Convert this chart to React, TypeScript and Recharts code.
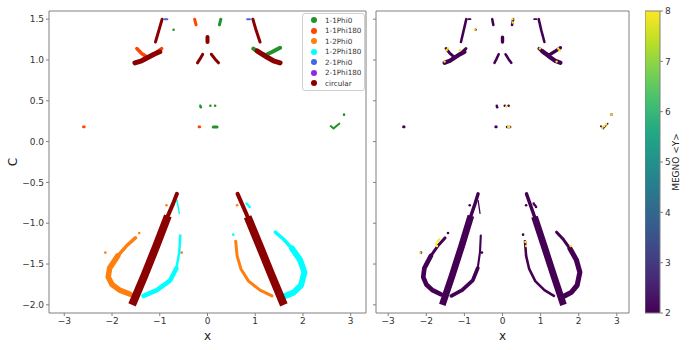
import React from 'react';
import { ScatterChart, Scatter, XAxis, YAxis, ReferenceLine, Legend, BarChart, Bar } from 'recharts';

// ---------- axes ----------
const X_TICKS = [-3, -2, -1, 0, 1, 2, 3];
const Y_TICKS = [-2, -1.5, -1, -0.5, 0, 0.5, 1, 1.5];
const CBAR_TICKS = [2, 3, 4, 5, 6, 7, 8];
const X_DOMAIN: [number, number] = [-3.32, 3.32];
const Y_DOMAIN: [number, number] = [-2.1, 1.6];

// ---------- categories ----------
const CATEGORIES = ['1-1Phi0', '1-1Phi180', '1-2Phi0', '1-2Phi180', '2-1Phi0', '2-1Phi180', 'circular'];
const CATEGORY_COLORS = ['#22922b', '#ff4500', '#ff7f0e', '#00ffff', '#4169e1', '#8a2be2', '#8b0000'];

// ---------- bands (x, C) ----------
const circUpperLeftArm = [[-0.95, 1.5], [-1.02, 1.36], [-1.09, 1.22]];
const circUpperRightArm = [[0.95, 1.5], [1.02, 1.36], [1.1, 1.22]];
const circLeftWing = [[-1.52, 0.965], [-1.38, 0.99], [-1.25, 1.03], [-1.12, 1.07], [-1.0, 1.1]];
const circRightWing = [[1.52, 0.965], [1.38, 0.99], [1.26, 1.03], [1.15, 1.07], [1.04, 1.11]];
const circCenterPeak = [[0, 1.28], [0, 1.22]];
const circCenterLeft = [[-0.1, 1.07], [-0.16, 1.01], [-0.21, 0.965]];
const circCenterRight = [[0.08, 1.07], [0.16, 1.01], [0.23, 0.965]];
const circLowerLeftTop = [[-0.64, -0.64], [-0.72, -0.76], [-0.83, -0.91]];
const circLowerLeft = [[-0.83, -0.91], [-1.08, -1.29], [-1.32, -1.64], [-1.58, -2.0]];
const circLowerRightTop = [[0.63, -0.64], [0.72, -0.76], [0.84, -0.92]];
const circLowerRight = [[0.84, -0.92], [1.1, -1.29], [1.35, -1.65], [1.6, -2.0]];

const phi180LeftV = [[-1.48, 1.14], [-1.38, 1.08], [-1.25, 1.03], [-1.12, 1.07], [-0.96, 1.14]];
const phi180CenterTop = [[-0.27, 1.5], [-0.24, 1.43]];
const phi0RightV = [[0.96, 1.14], [1.08, 1.09], [1.22, 1.06], [1.36, 1.1], [1.52, 1.15]];
const phi0CenterTop = [[0.28, 1.5], [0.25, 1.43]];
const phi0MidCluster = [[0.12, 0.18], [0.2, 0.18]];
const phi0RightCluster = [[2.58, 0.19], [2.64, 0.16], [2.72, 0.2], [2.76, 0.22]];
const blueLeftTop = [[-0.9, 1.5], [-0.84, 1.5]];
const blueRightTop = [[0.83, 1.5], [0.89, 1.5]];

const orangeLeftTop = [[-1.51, -1.18], [-1.7, -1.28], [-1.88, -1.4]];
const orangeLeft = [[-1.88, -1.4], [-2.05, -1.55], [-2.08, -1.66], [-2.0, -1.75], [-1.84, -1.82], [-1.62, -1.87]];
const orangeRight = [[0.59, -1.22], [0.62, -1.4], [0.7, -1.56], [0.86, -1.71], [1.1, -1.82], [1.35, -1.89]];
const cyanLeftTop = [[-0.57, -1.15], [-0.59, -1.35], [-0.65, -1.55]];
const cyanLeft = [[-0.65, -1.55], [-0.78, -1.7], [-1.06, -1.82], [-1.34, -1.89]];
const cyanLeftTrickle = [[-0.64, -0.72], [-0.59, -0.88]];
const cyanRightTop = [[1.42, -1.11], [1.6, -1.2], [1.77, -1.31]];
const cyanRight = [[1.77, -1.31], [1.94, -1.45], [2.03, -1.6], [1.96, -1.76], [1.8, -1.85], [1.63, -1.89]];

// ---------- scattered single points ----------
const greenDots = [[-0.71, 1.37], [-0.15, 0.44], [-0.14, 0.42], [0.06, 0.44], [0.16, 0.44], [2.86, 0.33]];
const orangeRedDots = [[-2.6, 0.18], [-2.58, 0.18], [-0.18, 0.18], [-0.16, 0.18]];
const orangeDots = [[-1.43, -1.12], [-2.14, -1.36], [-0.86, -0.78], [-0.54, -1.36], [0.62, -0.78]];
const cyanDots = [[0.54, -1.14], [0.82, -0.76], [0.85, -0.78], [0.88, -0.8]];

// ---------- high MEGNO points (right panel) ----------
const HIGH_MEGNO = [
  [-0.73, 1.37], [0.26, 1.5], [0.27, 1.46], [1.46, 1.14], [1.5, 1.12], [0.98, 1.14], [1.42, 0.98],
  [-1.43, 1.14], [-1.47, 1.12], [-1.52, 0.98], [-1.12, 1.12], [0.1, 0.43], [0.15, 0.18], [0.18, 0.18],
  [2.62, 0.17], [2.67, 0.19], [2.72, 0.21], [2.86, 0.33], [-2.16, -1.36], [-1.74, -1.25], [-1.7, -1.22],
  [-1.66, -1.2], [-1.72, -1.28], [0.6, -1.23], [0.62, -1.28], [1.79, -1.28],
];
const HIGH_MEGNO_VALUE = 8;
const BAND_MEGNO_VALUE = 2;

type Band = { cat: number; pts: number[][]; w: number; cap?: 'butt' | 'round' };
const BANDS: Band[] = [
  { cat: 0, pts: phi0RightV, w: 4 },
  { cat: 0, pts: phi0CenterTop, w: 3 },
  { cat: 0, pts: phi0MidCluster, w: 3 },
  { cat: 0, pts: phi0RightCluster, w: 2 },
  { cat: 1, pts: phi180LeftV, w: 3.5 },
  { cat: 1, pts: phi180CenterTop, w: 3 },
  { cat: 2, pts: orangeLeftTop, w: 3.5 },
  { cat: 2, pts: orangeLeft, w: 5.5 },
  { cat: 2, pts: orangeRight, w: 3 },
  { cat: 3, pts: cyanLeftTop, w: 2.5 },
  { cat: 3, pts: cyanLeft, w: 4.5 },
  { cat: 3, pts: cyanLeftTrickle, w: 1.5 },
  { cat: 3, pts: cyanRightTop, w: 3.5 },
  { cat: 3, pts: cyanRight, w: 6 },
  { cat: 4, pts: blueLeftTop, w: 2 },
  { cat: 4, pts: blueRightTop, w: 2 },
  { cat: 6, pts: circUpperLeftArm, w: 3 },
  { cat: 6, pts: circUpperRightArm, w: 3 },
  { cat: 6, pts: circLeftWing, w: 5 },
  { cat: 6, pts: circRightWing, w: 5 },
  { cat: 6, pts: circCenterPeak, w: 4 },
  { cat: 6, pts: circCenterLeft, w: 3 },
  { cat: 6, pts: circCenterRight, w: 3 },
  { cat: 6, pts: circLowerLeftTop, w: 4 },
  { cat: 6, pts: circLowerLeft, w: 8, cap: 'butt' },
  { cat: 6, pts: circLowerRightTop, w: 4 },
  { cat: 6, pts: circLowerRight, w: 8, cap: 'butt' },
];
const DOTS: { cat: number; pts: number[][] }[] = [
  { cat: 0, pts: greenDots },
  { cat: 1, pts: orangeRedDots },
  { cat: 2, pts: orangeDots },
  { cat: 3, pts: cyanDots },
];

const VIRIDIS = ['#440154', '#482475', '#414487', '#355f8d', '#2a788e', '#21918c', '#22a884', '#44bf70', '#7ad151', '#bddf26', '#fde725'];
const viridis = (v: number) => {
  const t = Math.max(0, Math.min(1, (v - 2) / 6));
  return VIRIDIS[Math.round(t * (VIRIDIS.length - 1))];
};

const toPts = (a: number[][]) => a.map(([x, y]) => ({ x, y }));
const FONT = 'DejaVu Sans, sans-serif';
const SPINE = '#808080';
const TICK = { fontSize: 9, fill: '#333', fontFamily: FONT };
const fmt = (v: number, d: number) => (v < 0 ? '\u2212' + Math.abs(v).toFixed(d) : v.toFixed(d));

const NoShape = () => <g />;
const makeDot = (r: number) => (p: any) => <circle cx={p.cx} cy={p.cy} r={r} fill={p.fill} />;

function LegendBox() {
  return (
    <div style={{ border: '1px solid #d0d0d0', borderRadius: 3, background: 'rgba(255,255,255,0.85)', padding: '1px 3px 1px 6px', fontFamily: FONT, fontSize: 7.2, color: '#333' }}>
      {CATEGORIES.map((c, i) => (
        <div key={c} style={{ display: 'flex', alignItems: 'center', height: 10.5, whiteSpace: 'nowrap' }}>
          <span style={{ display: 'inline-block', width: 6, height: 6, borderRadius: 3, background: CATEGORY_COLORS[i], marginLeft: 2, marginRight: 8 }} />
          {c}
        </div>
      ))}
    </div>
  );
}

function Panel({ megno, width, yLabels, left }: { megno: boolean; width: number; yLabels: boolean; left: number }) {
  const scale = megno ? 0.85 : 1;
  const yAxisWidth = yLabels ? 49 : 6;
  return (
    <div style={{ position: 'absolute', left, top: 0 }}>
      <ScatterChart width={width} height={350} margin={{ top: 11, right: 4, bottom: 7, left: 0 }}>
        <XAxis
          type="number"
          dataKey="x"
          domain={X_DOMAIN}
          ticks={X_TICKS}
          allowDataOverflow
          height={30}
          tickSize={3}
          tick={TICK}
          tickFormatter={(v: number) => fmt(v, 0)}
          stroke={SPINE}
          label={(p: any) => (
            <text x={p.viewBox.x + p.viewBox.width / 2} y={p.viewBox.y + 27} textAnchor="middle" fontSize={12} fontFamily={FONT} fill="#222">x</text>
          )}
        />
        <YAxis
          type="number"
          dataKey="y"
          domain={Y_DOMAIN}
          ticks={Y_TICKS}
          allowDataOverflow
          width={yAxisWidth}
          tickSize={3}
          tick={TICK}
          tickFormatter={(v: number) => (yLabels ? fmt(v, 1) : '')}
          stroke={SPINE}
          label={yLabels ? (p: any) => {
            const cx = p.viewBox.x + 13;
            const cy = p.viewBox.y + p.viewBox.height / 2;
            return <text x={cx} y={cy} transform={`rotate(-90 ${cx} ${cy})`} textAnchor="middle" dominantBaseline="central" fontSize={12} fontFamily={FONT} fill="#222">C</text>;
          } : undefined}
        />
        <ReferenceLine x={X_DOMAIN[1]} stroke={SPINE} />
        <ReferenceLine y={Y_DOMAIN[1]} stroke={SPINE} />
        {BANDS.map((b, i) => {
          const color = megno ? viridis(BAND_MEGNO_VALUE) : CATEGORY_COLORS[b.cat];
          return (
            <Scatter
              key={'b' + i}
              data={toPts(b.pts)}
              fill={color}
              line={{ stroke: color, strokeWidth: b.w * scale, strokeLinecap: b.cap || 'round', strokeLinejoin: 'round' }}
              lineJointType="linear"
              shape={NoShape}
              isAnimationActive={false}
            />
          );
        })}
        {DOTS.map((d, i) => (
          <Scatter
            key={'d' + i}
            data={toPts(d.pts)}
            fill={megno ? viridis(BAND_MEGNO_VALUE) : CATEGORY_COLORS[d.cat]}
            shape={makeDot(1.3)}
            isAnimationActive={false}
          />
        ))}
        {megno && (
          <Scatter data={toPts(HIGH_MEGNO)} fill={viridis(HIGH_MEGNO_VALUE)} shape={makeDot(1.2)} isAnimationActive={false} />
        )}
        {!megno && (
          <Legend
            layout="vertical"
            align="center"
            verticalAlign="middle"
            content={() => <LegendBox />}
            wrapperStyle={{ left: 302, top: 13, width: 'auto', height: 'auto' }}
          />
        )}
      </ScatterChart>
    </div>
  );
}

const CBAR_DATA = [{ name: 'MEGNO', range: [CBAR_TICKS[0], CBAR_TICKS[CBAR_TICKS.length - 1]] }];

function ColorBar() {
  return (
    <div style={{ position: 'absolute', left: 645, top: 0 }}>
      <svg width={0} height={0} style={{ position: 'absolute' }}>
        <defs>
          <linearGradient id="viridisGrad" x1="0" y1="1" x2="0" y2="0">
            {VIRIDIS.map((c, i) => (
              <stop key={c} offset={i / (VIRIDIS.length - 1)} stopColor={c} />
            ))}
          </linearGradient>
        </defs>
      </svg>
      <BarChart width={55} height={350} data={CBAR_DATA} margin={{ top: 11, right: 0, bottom: 37, left: 0 }} barCategoryGap={0}>
        <XAxis dataKey="name" hide />
        <YAxis
          orientation="right"
          type="number"
          domain={[CBAR_TICKS[0], CBAR_TICKS[CBAR_TICKS.length - 1]]}
          ticks={CBAR_TICKS}
          width={40}
          tickSize={3}
          tick={TICK}
          axisLine={false}
          stroke={SPINE}
          label={(p: any) => {
            const cx = p.viewBox.x + 16;
            const cy = p.viewBox.y + p.viewBox.height / 2;
            return <text x={cx} y={cy} transform={`rotate(-90 ${cx} ${cy})`} textAnchor="middle" dominantBaseline="central" fontSize={9} fontFamily={FONT} fill="#222">{'MEGNO <Y>'}</text>;
          }}
        />
        <Bar dataKey="range" fill="url(#viridisGrad)" stroke={SPINE} strokeWidth={1} isAnimationActive={false} />
      </BarChart>
    </div>
  );
}

export default function App() {
  return (
    <div style={{ position: 'absolute', left: 0, top: 0, width: 700, height: 350, background: '#fff', fontFamily: FONT }}>
      <Panel megno={false} width={370} yLabels left={0} />
      <Panel megno width={263} yLabels={false} left={370} />
      <ColorBar />
    </div>
  );
}
